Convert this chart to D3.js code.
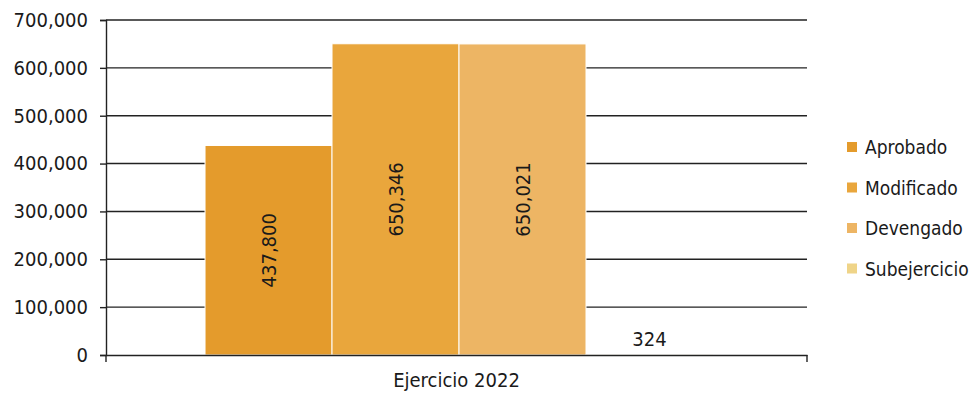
<!DOCTYPE html>
<html>
<head>
<meta charset="utf-8">
<script src="https://cdn.jsdelivr.net/npm/d3@7"></script>
<style>
  body { margin: 0; background: #fff; }
  text { font-family: "DejaVu Sans Condensed", "DejaVu Sans", sans-serif; fill: #1a1a1a; }
</style>
</head>
<body>
<div id="canvas"></div>
<script>
const categories = ["Ejercicio 2022"];
const series = ["Aprobado", "Modificado", "Devengado", "Subejercicio"];
const values = [437800, 650346, 650021, 324];
const colors = ["#e49b2c", "#e9a63c", "#edb564", "#efd488"];
const yTicks = [0, 100000, 200000, 300000, 400000, 500000, 600000, 700000];

const margin = { Top: 20, Right: 172, Bottom: 45, Left: 106 };
const W = 979, H = 400;
const width = W - margin.Left - margin.Right;
const height = H - margin.Top - margin.Bottom;

const svg = d3.select("#canvas").append("svg")
    .attr("width", W)
    .attr("height", H);

const g = svg.append("g")
    .attr("transform", `translate(${margin.Left}, ${margin.Top})`);

const y = d3.scaleLinear()
    .domain([0, 700000])
    .range([height, 0]);

const x0 = d3.scaleBand()
    .domain(categories)
    .range([0, width])
    .padding(0);

const x1 = d3.scaleBand()
    .domain(series)
    .range([0, x0.bandwidth()])
    .paddingInner(0)
    .paddingOuter(0.76)
    .align(0.513);

const fmt = d3.format(",");

// gridlines
g.append("g")
    .selectAll("line")
    .data(yTicks.slice(1))
    .join("line")
    .attr("x1", 0)
    .attr("x2", width)
    .attr("y1", d => y(d))
    .attr("y2", d => y(d))
    .attr("stroke", "#222")
    .attr("stroke-width", 1.4);

// y axis
const yAxis = g.append("g")
    .call(d3.axisLeft(y).tickValues(yTicks).tickFormat(fmt).tickSize(6).tickPadding(12));
yAxis.select(".domain").attr("stroke", "#222").attr("stroke-width", 1.4);
yAxis.selectAll(".tick line").attr("stroke", "#222").attr("stroke-width", 1.4);
yAxis.selectAll("text").attr("font-size", 20).style("fill", "#1a1a1a");

// bars
const grp = g.append("g")
    .selectAll("g")
    .data(categories)
    .join("g")
    .attr("transform", d => `translate(${x0(d)},0)`);

const barData = series.map((s, i) => ({ s, v: values[i], c: colors[i] }));

grp.selectAll("rect")
    .data(barData)
    .join("rect")
    .attr("x", d => x1(d.s))
    .attr("y", d => y(d.v))
    .attr("width", x1.bandwidth())
    .attr("height", d => height - y(d.v))
    .attr("fill", d => d.c)
    .attr("stroke", "#fff")
    .attr("stroke-width", 1);

// value labels
grp.selectAll("text.val")
    .data(barData)
    .join("text")
    .attr("class", "val")
    .attr("font-size", 20)
    .attr("text-anchor", "middle")
    .attr("dominant-baseline", "central")
    .attr("transform", d => {
        const cx = x1(d.s) + x1.bandwidth() / 2;
        const h = height - y(d.v);
        if (h > 60) {
            return `translate(${cx},${y(d.v) + h / 2}) rotate(-90)`;
        }
        return `translate(${cx},${y(d.v) - 16})`;
    })
    .text(d => fmt(d.v));

// x axis
const xAxis = g.append("g")
    .attr("transform", `translate(0, ${height})`)
    .call(d3.axisBottom(x0).tickSize(0).tickPadding(18));
xAxis.select(".domain").attr("stroke", "#222").attr("stroke-width", 1.4);
xAxis.selectAll("text").attr("font-size", 20).style("fill", "#1a1a1a");
xAxis.selectAll("line.edge")
    .data([0, width])
    .join("line")
    .attr("class", "edge")
    .attr("x1", d => d)
    .attr("x2", d => d)
    .attr("y1", 0)
    .attr("y2", 7)
    .attr("stroke", "#222")
    .attr("stroke-width", 1.4);

// legend
const legend = svg.append("g")
    .attr("transform", "translate(847, 147)");

const item = legend.selectAll("g")
    .data(barData)
    .join("g")
    .attr("transform", (d, i) => `translate(0, ${i * 40.5})`);

item.append("rect")
    .attr("x", 0)
    .attr("y", -5)
    .attr("width", 10)
    .attr("height", 10)
    .attr("fill", d => d.c);

item.append("text")
    .attr("x", 18)
    .attr("y", 0)
    .attr("dominant-baseline", "central")
    .attr("font-size", 19)
    .text(d => d.s);
</script>
</body>
</html>
